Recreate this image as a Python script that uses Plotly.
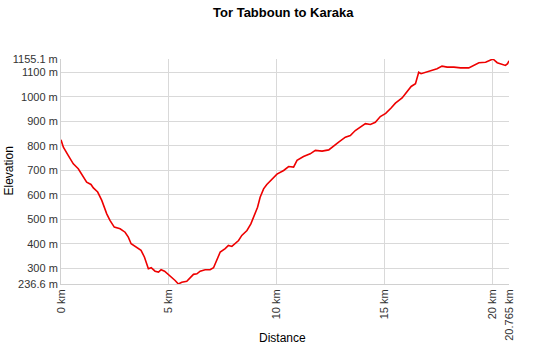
import plotly.graph_objects as go

distance_km = [0.0, 0.11, 0.34, 0.57, 0.80, 0.96, 1.19, 1.39, 1.50, 1.70, 1.89, 2.12, 2.27, 2.47,
               2.74, 2.97, 3.12, 3.25, 3.51, 3.71, 3.87, 4.05, 4.18, 4.36, 4.52, 4.64, 4.80, 4.98,
               5.14, 5.29, 5.44, 5.60, 5.83, 5.99, 6.14, 6.30, 6.45, 6.68, 6.91, 7.07, 7.22, 7.38,
               7.61, 7.76, 7.92, 8.07, 8.23, 8.38, 8.62, 8.80, 8.92, 9.11, 9.23, 9.39, 9.54, 9.78,
               10.01, 10.32, 10.55, 10.78, 10.94, 11.24, 11.55, 11.79, 12.10, 12.41, 12.64, 12.87,
               13.18, 13.41, 13.64, 13.87, 14.11, 14.34, 14.57, 14.80, 15.05, 15.30, 15.50, 15.81,
               16.04, 16.23, 16.43, 16.51, 16.58, 16.69, 16.89, 17.12, 17.43, 17.66, 17.90, 18.21,
               18.52, 18.90, 19.13, 19.37, 19.68, 20.02, 20.22, 20.41, 20.60, 20.70, 20.765]
elevation_m = [825, 795, 761, 727, 707, 686, 652, 643, 629, 612, 578, 523, 496, 469,
               462, 448, 428, 401, 387, 374, 346, 299, 303, 289, 285, 295, 289, 276,
               265, 251, 236.6, 244, 248, 262, 276, 278, 289, 295, 295, 303, 333, 367,
               381, 394, 390, 403, 414, 435, 455, 482, 510, 550, 591, 625, 643, 666,
               685, 700, 716, 714, 741, 757, 768, 782, 779, 784, 802, 816,
               836, 843, 863, 877, 891, 888, 897, 920, 933, 955, 975, 996,
               1020, 1043, 1054, 1081, 1101, 1095, 1101, 1108, 1115, 1126, 1122, 1122,
               1119, 1119, 1129, 1140, 1142, 1155.1, 1140, 1133, 1129, 1136, 1148]

x_tick_vals = [0, 5, 10, 15, 20, 20.765]
x_tick_text = ["0 km", "5 km", "10 km", "15 km", "20 km", "20.765 km"]
y_tick_vals = [236.6, 300, 400, 500, 600, 700, 800, 900, 1000, 1100, 1155.1]
y_tick_text = ["236.6 m", "300 m", "400 m", "500 m", "600 m", "700 m", "800 m",
               "900 m", "1000 m", "1100 m", "1155.1 m"]

fig = go.Figure()
fig.add_trace(go.Scatter(x=distance_km, y=elevation_m, mode="lines",
                         line=dict(color="#ee0000", width=1.6), hoverinfo="x+y"))

fig.update_layout(
    width=550, height=344,
    margin=dict(l=61, r=41, t=59, b=60),
    paper_bgcolor="white", plot_bgcolor="white",
    font=dict(family="Liberation Sans, Arial, sans-serif", color="#333333", size=11),
    title=dict(text="<b>Tor Tabboun to Karaka</b>", x=0.515, xanchor="center", y=0.965, yanchor="middle",
               font=dict(size=13, color="#000000")),
    showlegend=False,
    xaxis=dict(range=[0, 20.765], tickvals=x_tick_vals, ticktext=x_tick_text, tickangle=-90,
               showgrid=True, gridcolor="#d9d9d9", gridwidth=1, zeroline=False,
               showline=True, linecolor="#d0d0d0", mirror=False, ticks="", automargin=False,
               tickfont=dict(size=11, color="#333333")),
    yaxis=dict(range=[236.6, 1155.1], tickvals=y_tick_vals, ticktext=y_tick_text,
               showgrid=True, gridcolor="#d9d9d9", gridwidth=1, zeroline=False,
               showline=True, linecolor="#d0d0d0", ticks="", automargin=False,
               tickfont=dict(size=11, color="#333333")),
    annotations=[
        dict(text="Distance", xref="paper", yref="paper", x=0.495, y=0, yshift=-54,
             xanchor="center", yanchor="middle", showarrow=False,
             font=dict(size=12, color="#000000")),
        dict(text="Elevation", xref="paper", yref="paper", x=0, y=0.5, xshift=-53,
             xanchor="center", yanchor="middle", textangle=-90, showarrow=False,
             font=dict(size=12, color="#000000")),
    ],
)

fig.write_html("out.html")
